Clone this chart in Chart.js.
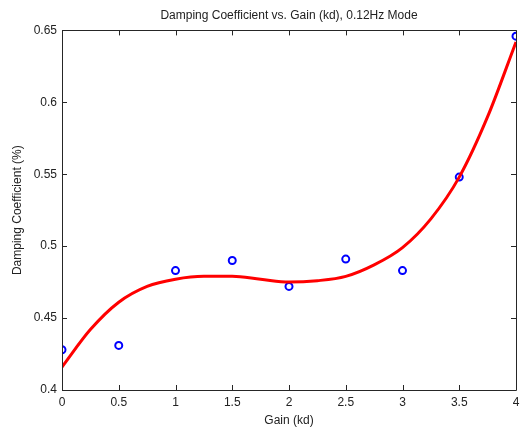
<!DOCTYPE html>
<html>
<head>
<meta charset="utf-8">
<script src="https://cdn.jsdelivr.net/npm/chart.js@4/dist/chart.umd.min.js"></script>
<style>
  html, body { margin: 0; padding: 0; background: #ffffff; }
  #wrap { width: 522px; height: 430px; }
</style>
</head>
<body>
<div id="wrap"><canvas id="dampChart" width="522" height="430"></canvas></div>
<script>
// measured points
const gainValues = [0, 0.5, 1, 1.5, 2, 2.5, 3, 3.5, 4];
const dampValues = [0.428, 0.431, 0.483, 0.490, 0.472, 0.491, 0.483, 0.548, 0.646];

// fitted curve
const fitGain = [0, 0.25, 0.5, 0.75, 1, 1.25, 1.5, 1.75, 2, 2.25, 2.5, 2.75, 3, 3.25, 3.5, 3.75, 4];
const fitDamp = [0.416, 0.442, 0.461, 0.472, 0.477, 0.479, 0.479, 0.477, 0.475, 0.476, 0.479, 0.487, 0.499, 0.519, 0.548, 0.590, 0.642];

const xTicks = [0, 0.5, 1, 1.5, 2, 2.5, 3, 3.5, 4];
const yTicks = [0.4, 0.45, 0.5, 0.55, 0.6, 0.65];

const axisColor = '#262626';
const fontFamily = '"Liberation Sans", Arial, sans-serif';

// box round the plot with ticks pointing inward on every side
const framePlugin = {
  id: 'frame',
  afterDatasetsDraw(chart) {
    const { ctx, chartArea: a, scales } = chart;
    const len = 5;
    ctx.save();
    ctx.strokeStyle = axisColor;
    ctx.lineWidth = 1;
    ctx.beginPath();
    ctx.rect(Math.round(a.left) + 0.5, Math.round(a.top) + 0.5,
      Math.round(a.right - a.left), Math.round(a.bottom - a.top));
    xTicks.forEach(v => {
      const px = Math.round(scales.x.getPixelForValue(v)) + 0.5;
      ctx.moveTo(px, a.bottom); ctx.lineTo(px, a.bottom - len);
      ctx.moveTo(px, a.top); ctx.lineTo(px, a.top + len);
    });
    yTicks.forEach(v => {
      const py = Math.round(scales.y.getPixelForValue(v)) + 0.5;
      ctx.moveTo(a.left, py); ctx.lineTo(a.left + len, py);
      ctx.moveTo(a.right, py); ctx.lineTo(a.right - len, py);
    });
    ctx.stroke();
    ctx.restore();
  }
};

new Chart(document.getElementById('dampChart'), {
  type: 'scatter',
  data: {
    datasets: [
      {
        label: 'fit',
        data: fitGain.map((g, i) => ({ x: g, y: fitDamp[i] })),
        showLine: true,
        borderColor: '#ff0000',
        borderWidth: 3,
        pointRadius: 0,
        cubicInterpolationMode: 'monotone',
        fill: false
      },
      {
        label: 'measured',
        data: gainValues.map((g, i) => ({ x: g, y: dampValues[i] })),
        showLine: false,
        pointStyle: 'circle',
        pointRadius: 3.5,
        borderColor: '#0000ff',
        borderWidth: 2,
        backgroundColor: 'rgba(0,0,0,0)'
      }
    ]
  },
  plugins: [framePlugin],
  options: {
    responsive: false,
    animation: false,
    layout: { padding: { left: 0, right: 0, top: 0, bottom: 0 } },
    plugins: {
      legend: { display: false },
      tooltip: { enabled: false },
      title: {
        display: true,
        text: 'Damping Coefficient vs. Gain (kd), 0.12Hz Mode',
        fullSize: false,
        color: '#222',
        font: { family: fontFamily, size: 12, weight: 'normal' },
        padding: { top: 8, bottom: 8 }
      }
    },
    scales: {
      x: {
        type: 'linear',
        min: 0,
        max: 4,
        afterBuildTicks: s => { s.ticks = xTicks.map(v => ({ value: v })); },
        afterFit: s => { s.height = 40; s.paddingLeft = 0; s.paddingRight = 0; },
        ticks: {
          color: '#222',
          font: { family: fontFamily, size: 12 },
          padding: 5,
          maxRotation: 0,
          callback: v => String(v)
        },
        grid: { display: false, drawTicks: false },
        border: { display: false },
        title: {
          display: true,
          text: 'Gain (kd)',
          color: '#222',
          font: { family: fontFamily, size: 12 },
          padding: { top: 0, bottom: 2 }
        }
      },
      y: {
        type: 'linear',
        min: 0.4,
        max: 0.65,
        afterBuildTicks: s => { s.ticks = yTicks.map(v => ({ value: v })); },
        afterFit: s => { s.width = 62; },
        ticks: {
          color: '#222',
          font: { family: fontFamily, size: 12 },
          padding: 5,
          callback: v => String(Math.round(v * 100) / 100)
        },
        grid: { display: false, drawTicks: false },
        border: { display: false },
        title: {
          display: true,
          text: 'Damping Coefficient (%)',
          color: '#222',
          font: { family: fontFamily, size: 12 },
          padding: { top: 10, bottom: 0 }
        }
      }
    }
  }
});
</script>
</body>
</html>
